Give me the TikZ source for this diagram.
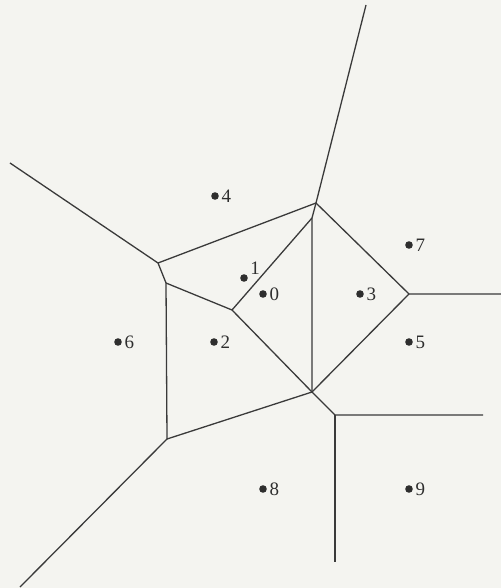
\documentclass[tikz,border=0pt]{standalone}
\usepackage{fontspec}
\setmainfont{Liberation Serif}
\usepackage{xcolor}
\usepackage{tikz}
\usetikzlibrary{positioning}
\definecolor{paperbg}{HTML}{F4F4F0}
\definecolor{edgegray}{HTML}{3A3A3A}
\definecolor{sitegray}{HTML}{2E2E2E}

\tikzset{
    cell/.style={draw=edgegray, line width=0.65pt},
    site/.style={circle, fill=sitegray, inner sep=0pt, minimum size=3.8pt},
    sitelabel/.style={font=\fontsize{9.5}{11}\selectfont, text=sitegray, inner sep=1pt}
}

\begin{document}
\begin{tikzpicture}[x=0.5pt, y=-0.5pt]
    \fill[paperbg] (0,0) rectangle (501,588);
    \useasboundingbox (0,0) rectangle (501,588);

    % Voronoi vertices
    \coordinate (vtop) at (316,203);
    \coordinate (vleft) at (158,263);
    \coordinate (vinner) at (166,283);
    \coordinate (vmid) at (232,310);
    \coordinate (vcol) at (312,218);
    \coordinate (vright) at (409,294);
    \coordinate (vbot) at (312,392);
    \coordinate (vlow) at (167,439);
    \coordinate (vcorner) at (335,415);

    % ray ends
    \coordinate (rtop) at (366,5);
    \coordinate (rleft) at (10,163);
    \coordinate (rright) at (501,294);
    \coordinate (rbotleft) at (20,587);
    \coordinate (rbotright) at (483,415);
    \coordinate (rdown) at (335,562);

    % Sites
    \node[site, label={[sitelabel, label distance=0pt]right:0}] (s0) at (263,294) {};
    \node[site, label={[sitelabel, label distance=0pt]20:1}] (s1) at (244,278) {};
    \node[site, label={[sitelabel, label distance=0pt]right:2}] (s2) at (214,342) {};
    \node[site, label={[sitelabel, label distance=0pt]right:3}] (s3) at (360,294) {};
    \node[site, label={[sitelabel, label distance=0pt]right:4}] (s4) at (215,196) {};
    \node[site, label={[sitelabel, label distance=0pt]right:5}] (s5) at (409,342) {};
    \node[site, label={[sitelabel, label distance=0pt]right:6}] (s6) at (118,342) {};
    \node[site, label={[sitelabel, label distance=0pt]right:7}] (s7) at (409,245) {};
    \node[site, label={[sitelabel, label distance=0pt]right:8}] (s8) at (263,489) {};
    \node[site, label={[sitelabel, label distance=0pt]right:9}] (s9) at (409,489) {};

    % Cell edges
    \draw[cell] (rtop) -- (vtop);
    \draw[cell] (rleft) -- (vleft) -- (vinner) -- (vlow) -- (rbotleft);
    \draw[cell] (vleft) -- (vtop) -- (vright) -- (rright);
    \draw[cell] (vinner) -- (vmid) -- (vcol);
    \draw[cell] (vtop) -- (vcol) -- (vbot);
    \draw[cell] (vmid) -- (vbot) -- (vright);
    \draw[cell] (vlow) -- (vbot) -- (vcorner) -- (rbotright);
    \draw[cell] (vcorner) -- (rdown);
\end{tikzpicture}
\end{document}
